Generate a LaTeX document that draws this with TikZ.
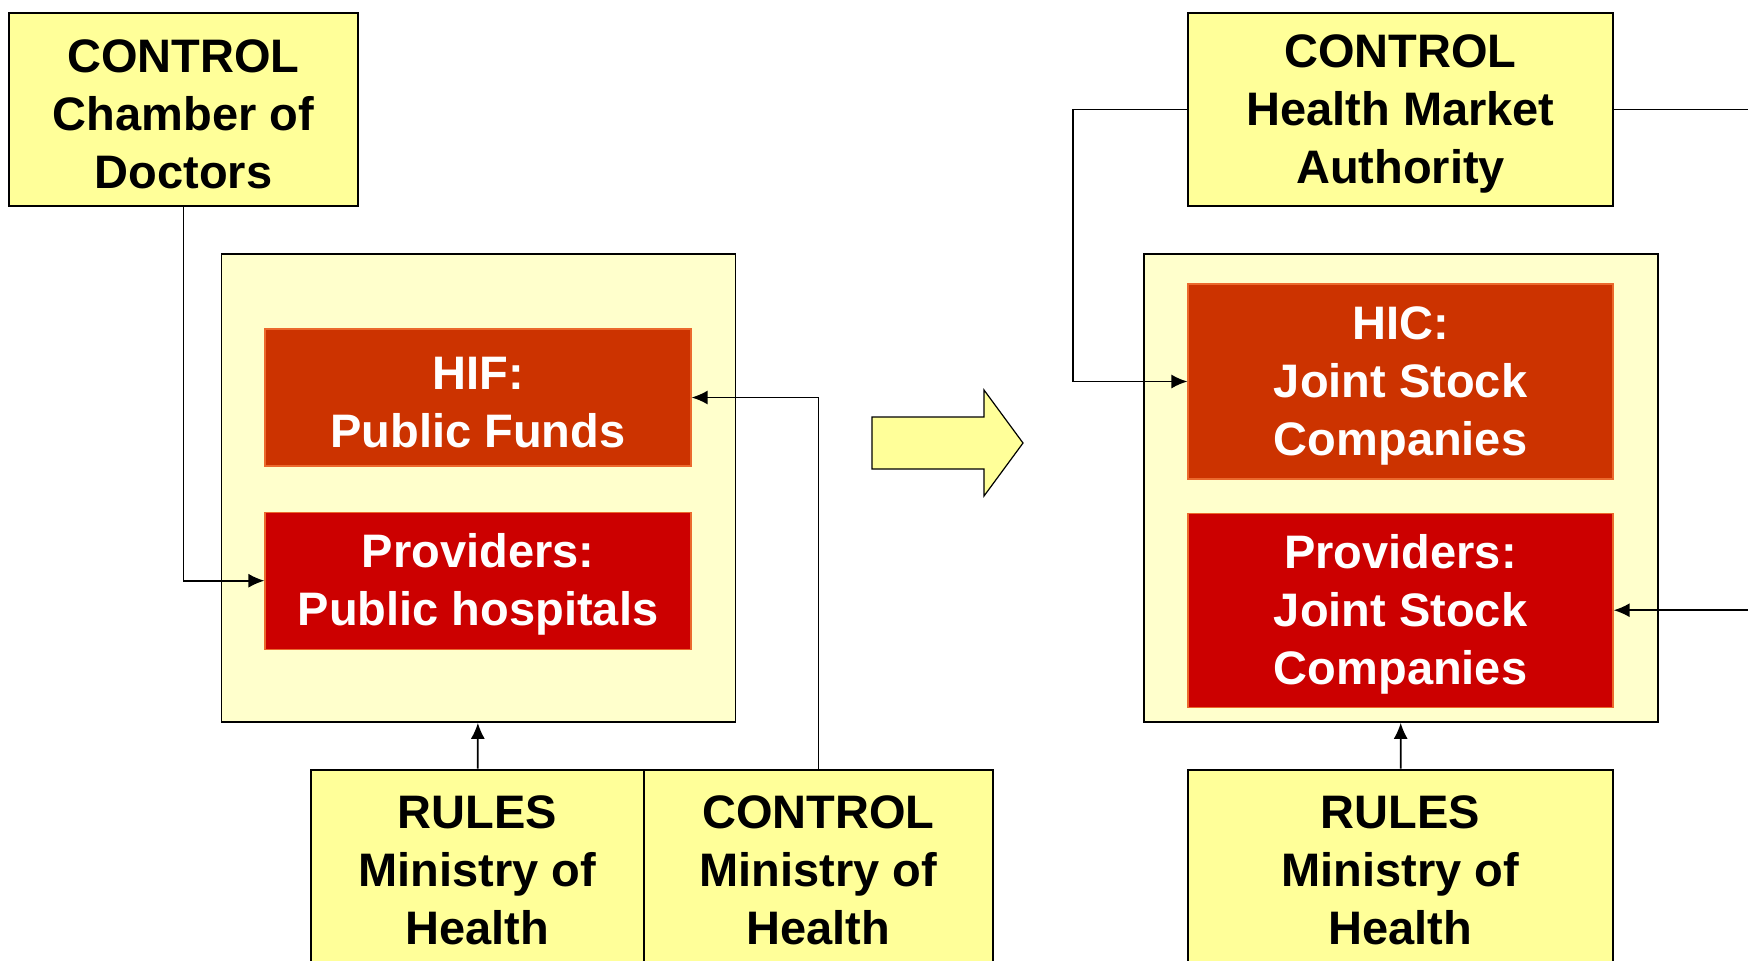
\documentclass[tikz,border=0pt]{standalone}
\usepackage{fontspec}
\setmainfont{Liberation Sans}
\usetikzlibrary{
  positioning,
  calc,
  arrows.meta}
\definecolor{authoritycolor}{RGB}{255,255,153}
\definecolor{sectorcolor}{RGB}{255,255,204}
\definecolor{fundcolor}{RGB}{204,51,0}
\definecolor{providercolor}{RGB}{204,0,0}
\definecolor{rimcolor}{RGB}{235,105,45}
%% extra room above the first line of a box
\newcommand{\toproom}{\rule{0pt}{21pt}}
\tikzset{
  %% authority : a body that sets rules or controls
  authority/.style={
    rectangle,
    draw=black,
    line width=1pt,
    fill=authoritycolor,
    inner sep=0pt,
    font=\bfseries\fontsize{23.5}{29}\selectfont,
    align=center
  },
  %% sector : the frame that holds funds and providers
  sector/.style={
    rectangle,
    draw=black,
    line width=0.8pt,
    fill=sectorcolor,
    minimum width=257pt,
    minimum height=234pt
  },
  %% fund : the insurance fund or company
  fund/.style={
    rectangle,
    draw=rimcolor,
    line width=0.6pt,
    fill=fundcolor,
    text=white,
    inner sep=0pt,
    font=\bfseries\fontsize{23.5}{29}\selectfont,
    align=center
  },
  %% provider : the care providers
  provider/.style={
    fund,
    fill=providercolor
  },
  %% link : connection between the boxes
  link/.style={
    line width=0.85pt,
    -{Latex[length=8pt, width=7pt]}
  },
  %% reformarrow : the big arrow between the two pictures
  reformarrow/.style={
    draw=black,
    line width=0.6pt,
    fill=authoritycolor
  }
}

\begin{document}
\begin{tikzpicture}
  [x=0.5pt,
  y=-0.5pt,
  align=center]

  \useasboundingbox (0, 0) rectangle (1748, 960);

  %% Before: public system

  \node (chamber) [authority, minimum width=174.5pt, minimum height=96.5pt]
  at (183.5, 109.5) {%
    \toproom CONTROL\\
    Chamber of\\
    Doctors
  };

  \node (sectorL) [sector] at (478.5, 488) {};

  \node (hif) [fund, minimum width=213pt, minimum height=68.5pt]
  at (478, 397.5) {%
    \toproom HIF:\\
    Public Funds
  };

  \node (provL) [below=22.5pt of hif, provider,
  minimum width=213pt, minimum height=68.5pt]{%
    \toproom Providers:\\
    Public hospitals
  };

  \node (rulesL) [authority, minimum width=166.5pt, minimum height=96.5pt]
  at (477.5, 866) {%
    \toproom RULES\\
    Ministry of\\
    Health
  };

  \node (ministry) [right=-1pt of rulesL, authority,
  minimum width=174.5pt, minimum height=96.5pt]{%
    \toproom CONTROL\\
    Ministry of\\
    Health
  };

  %% Connections
  \draw [link] (chamber.south) |- (provL.west);
  \draw [link] (rulesL) -- (sectorL);
  \draw [link] (ministry.north) |- (hif.east);

  %% Change
  \draw [reformarrow] (872, 417) -- (984, 417) -- (984, 390) -- (1023, 443)
  -- (984, 496) -- (984, 469) -- (872, 469) -- cycle;

  %% After: market system

  \node (market) [authority, minimum width=212.5pt, minimum height=96.5pt]
  at (1400.5, 109.5) {%
    \toproom CONTROL\\
    Health Market\\
    Authority
  };

  \node (sectorR) [sector] at (1401, 488) {};

  \node (hic) [fund, minimum width=212.5pt, minimum height=97.5pt]
  at (1400.5, 381.5) {%
    \toproom HIC:\\
    Joint Stock\\
    Companies
  };

  \node (provR) [below=16.5pt of hic, provider,
  minimum width=212.5pt, minimum height=97pt]{%
    \toproom Providers:\\
    Joint Stock\\
    Companies
  };

  \node (rulesR) [authority, minimum width=212.5pt, minimum height=96.5pt]
  at (1400.5, 866) {%
    \toproom RULES\\
    Ministry of\\
    Health
  };

  %% Connections
  \draw [link] (market.west) -- ++(-114, 0) |- (hic.west);
  \draw [link] (market.east) -- ++(250, 0) |- (provR.east);
  \draw [link] (rulesR) -- (sectorR);

\end{tikzpicture}
\end{document}
